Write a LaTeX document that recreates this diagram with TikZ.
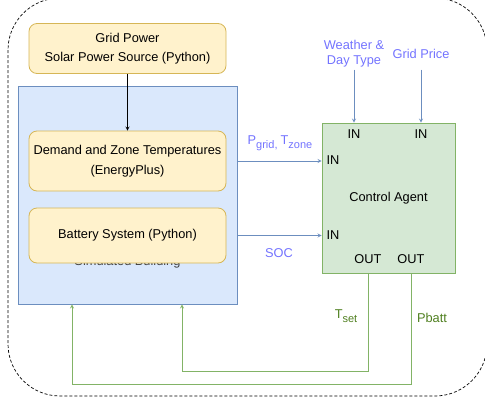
\documentclass[tikz,border=0pt]{standalone}
\usepackage{fontspec}
\setmainfont{Liberation Sans}
\usetikzlibrary{arrows}

\definecolor{ylwfill}{HTML}{FFF2CC}
\definecolor{ylwline}{HTML}{D6B656}
\definecolor{bluefill}{HTML}{DAE8FC}
\definecolor{blueline}{HTML}{6C8EBF}
\definecolor{grnfill}{HTML}{D5E8D4}
\definecolor{grnline}{HTML}{82B366}
\definecolor{bluetext}{HTML}{7373FF}
\definecolor{grntext}{HTML}{4F7F1F}

\newcommand{\lowsub}[1]{\raisebox{-3.5pt}{\fontsize{11}{12}\selectfont #1}}

\begin{document}
\begin{tikzpicture}[x=1pt,y=-1pt,>=stealth,
    every node/.style={font=\fontsize{12.8}{15}\selectfont,inner sep=2pt},
    ylwbox/.style={draw=ylwline,fill=ylwfill,rounded corners=8pt,line width=.8pt,
      minimum width=197pt,align=center,font=\fontsize{12.8}{19.5}\selectfont},
    sig/.style={draw=blueline,line width=.8pt},
    fb/.style={draw=grnline,line width=.8pt}]
    \useasboundingbox (0,0) rectangle (485,402);
    \clip (0,0) rectangle (485,402);

    % outer frame
    \draw[dash pattern=on 3pt off 2pt,line width=.7pt,rounded corners=52pt] (8,-2) rectangle (487,396);

    % simulated building
    \node[draw=blueline,fill=bluefill,line width=.8pt,minimum width=219pt,minimum height=218pt] (building) at (127.5,195) {};
    \node[anchor=base,text=black!75] (simlabel) at (127.5,265) {Simulated Building};

    \node[ylwbox,minimum height=50pt] (grid) at (127.5,48.5) {Grid Power\\Solar Power Source (Python)};
    \node[ylwbox,minimum height=60pt] (demand) at (127.5,161) {Demand and Zone Temperatures\\(EnergyPlus)};
    \node[ylwbox,minimum height=55pt] (battery) at (127.5,235.5) {Battery System (Python)};

    \draw[->,line width=.8pt] (grid.south) -- (demand.north);

    % control agent
    \node[draw=grnline,fill=grnfill,line width=.8pt,minimum width=133pt,minimum height=150pt] (agent) at (388.5,198) {Control Agent};
    \node (inw) at (354,134) {IN};
    \node (inp) at (421,134) {IN};
    \node (ina) at (333,160) {IN};
    \node (inb) at (333,235) {IN};
    \node (outa) at (368,259) {OUT};
    \node (outb) at (411,259) {OUT};

    % inputs
    \node[text=bluetext,align=center] (weather) at (354,54) {Weather \&\\Day Type};
    \node[text=bluetext] (price) at (421,54) {Grid Price};
    \draw[sig,->] (weather.south) -- (weather.south |- agent.north);
    \draw[sig,->] (price |- weather.south) -- (price |- agent.north);

    \draw[sig,->] (building.east |- demand) -- (agent.west |- demand);
    \node[text=bluetext] (pgrid) at (280,143) {P\lowsub{grid, }T\lowsub{zone}};
    \draw[sig,->] (building.east |- battery) -- (agent.west |- battery);
    \node[text=bluetext] (soc) at (279,253) {SOC};

    % feedback
    \coordinate (tsetin) at (182,0);
    \coordinate (pbattin) at (72,0);
    \draw[fb,->] (outa |- agent.south) -- ++(0,98) -| (building.south -| tsetin);
    \draw[fb,->] (outb.center |- agent.south) -- ++(0,111) -| (building.south -| pbattin);
    \node[text=grntext] (tset) at (346,316) {T\lowsub{set}};
    \node[text=grntext] (pbatt) at (432,318) {Pbatt};
\end{tikzpicture}
\end{document}
